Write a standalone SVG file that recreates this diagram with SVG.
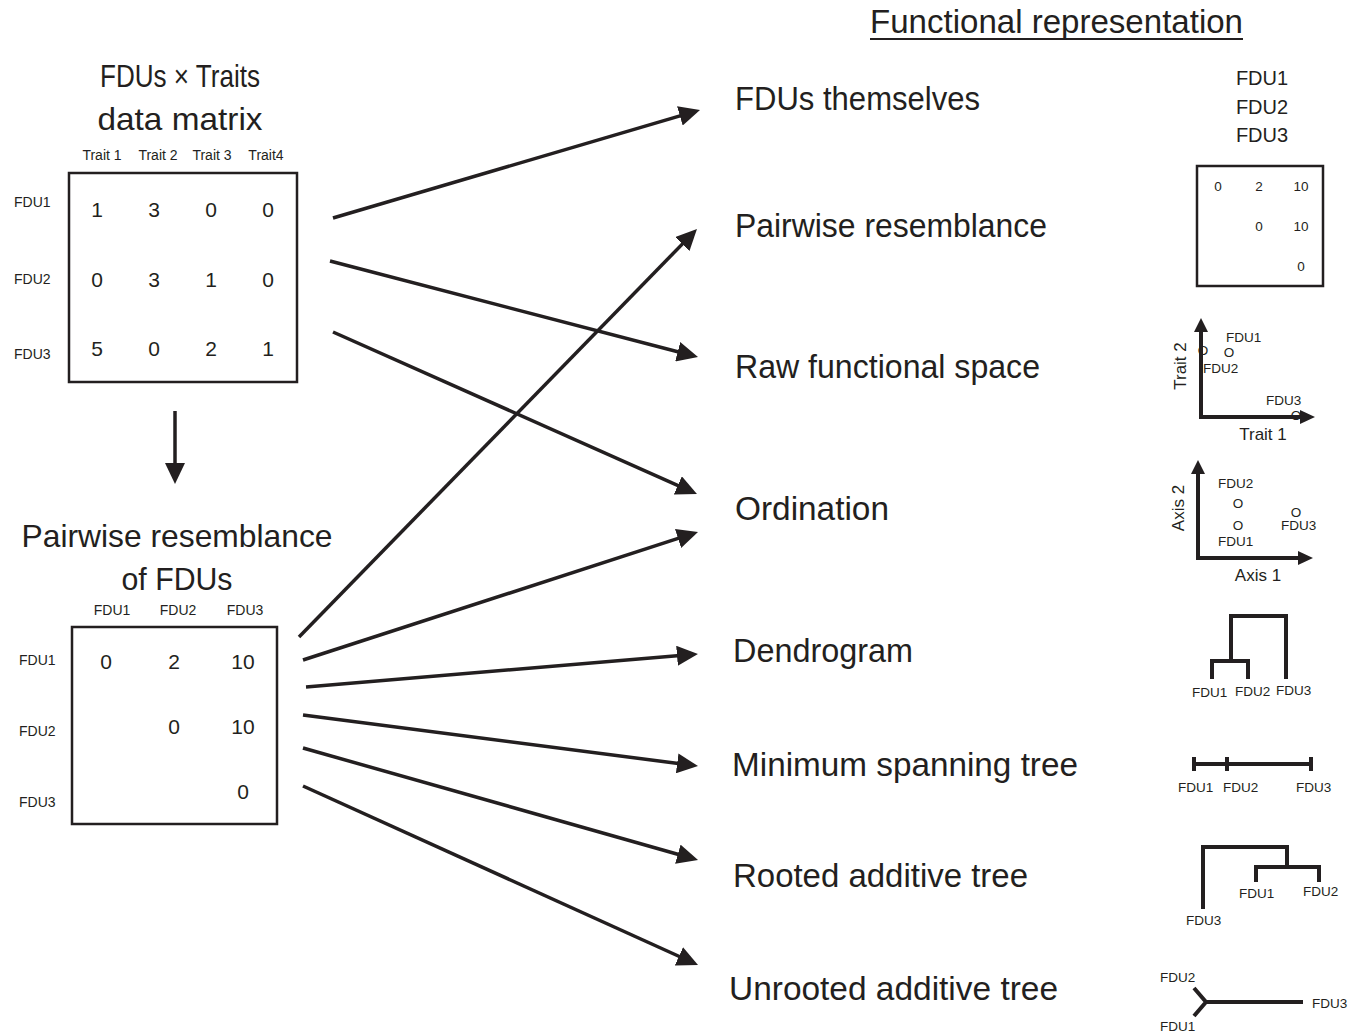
<svg xmlns="http://www.w3.org/2000/svg" width="1357" height="1033" viewBox="0 0 1357 1033">
<defs>
<marker id="ah" viewBox="0 0 21 20" refX="9" refY="10" markerWidth="21" markerHeight="20" markerUnits="userSpaceOnUse" orient="auto">
<path d="M0,0 L21,10 L0,20 Z" fill="#231f20"/>
</marker>
<style>
text{font-family:"Liberation Sans",Arial,sans-serif;fill:#231f20}
.big{font-size:33px}
.title{font-size:32px;text-anchor:middle}
.sm{font-size:14px}
.val{font-size:21px;text-anchor:middle}
.ico{font-size:13.5px}
.ival{font-size:13.5px;text-anchor:middle}
.box{fill:none;stroke:#231f20;stroke-width:2.5}
.conn line{stroke:#231f20;stroke-width:3.5;marker-end:url(#ah)}
.thk{fill:none;stroke:#231f20;stroke-width:4}
</style>
</defs>
<rect width="1357" height="1033" fill="#fff"/>

<g id="header">
<text x="870" y="33" class="big" textLength="373" lengthAdjust="spacingAndGlyphs">Functional representation</text>
<line x1="870" y1="39" x2="1243" y2="39" stroke="#231f20" stroke-width="2"/>
</g>

<g id="trait-matrix">
<text x="180" y="87" class="title" textLength="160" lengthAdjust="spacingAndGlyphs">FDUs × Traits</text>
<text x="180" y="130" class="title" textLength="165" lengthAdjust="spacingAndGlyphs">data matrix</text>
<text x="102" y="160" class="sm" text-anchor="middle">Trait 1</text>
<text x="158" y="160" class="sm" text-anchor="middle">Trait 2</text>
<text x="212" y="160" class="sm" text-anchor="middle">Trait 3</text>
<text x="266" y="160" class="sm" text-anchor="middle">Trait4</text>
<text x="14" y="207" class="sm">FDU1</text>
<text x="14" y="284" class="sm">FDU2</text>
<text x="14" y="359" class="sm">FDU3</text>
<rect x="69" y="173" width="228" height="209" class="box"/>
<text x="97" y="217" class="val">1</text><text x="154" y="217" class="val">3</text><text x="211" y="217" class="val">0</text><text x="268" y="217" class="val">0</text>
<text x="97" y="287" class="val">0</text><text x="154" y="287" class="val">3</text><text x="211" y="287" class="val">1</text><text x="268" y="287" class="val">0</text>
<text x="97" y="356" class="val">5</text><text x="154" y="356" class="val">0</text><text x="211" y="356" class="val">2</text><text x="268" y="356" class="val">1</text>
</g>

<g id="resemblance-matrix">
<text x="177" y="547" class="title" textLength="311" lengthAdjust="spacingAndGlyphs">Pairwise resemblance</text>
<text x="177" y="590" class="title" textLength="111" lengthAdjust="spacingAndGlyphs">of FDUs</text>
<text x="112" y="615" class="sm" text-anchor="middle">FDU1</text>
<text x="178" y="615" class="sm" text-anchor="middle">FDU2</text>
<text x="245" y="615" class="sm" text-anchor="middle">FDU3</text>
<text x="19" y="665" class="sm">FDU1</text>
<text x="19" y="736" class="sm">FDU2</text>
<text x="19" y="807" class="sm">FDU3</text>
<rect x="72" y="627" width="205" height="197" class="box"/>
<text x="106" y="669" class="val">0</text><text x="174" y="669" class="val">2</text><text x="243" y="669" class="val">10</text>
<text x="174" y="734" class="val">0</text><text x="243" y="734" class="val">10</text>
<text x="243" y="799" class="val">0</text>
</g>

<g id="labels">
<text x="735" y="110" class="big" textLength="245" lengthAdjust="spacingAndGlyphs">FDUs themselves</text>
<text x="735" y="237" class="big" textLength="312" lengthAdjust="spacingAndGlyphs">Pairwise resemblance</text>
<text x="735" y="378" class="big" textLength="305" lengthAdjust="spacingAndGlyphs">Raw functional space</text>
<text x="735" y="520" class="big" textLength="154" lengthAdjust="spacingAndGlyphs">Ordination</text>
<text x="733" y="662" class="big" textLength="180" lengthAdjust="spacingAndGlyphs">Dendrogram</text>
<text x="732" y="776" class="big" textLength="346" lengthAdjust="spacingAndGlyphs">Minimum spanning tree</text>
<text x="733" y="887" class="big" textLength="295" lengthAdjust="spacingAndGlyphs">Rooted additive tree</text>
<text x="729" y="1000" class="big" textLength="329" lengthAdjust="spacingAndGlyphs">Unrooted additive tree</text>
</g>

<g id="icon-fdus">
<text x="1262" y="85" font-size="20" text-anchor="middle">FDU1</text>
<text x="1262" y="114" font-size="20" text-anchor="middle">FDU2</text>
<text x="1262" y="142" font-size="20" text-anchor="middle">FDU3</text>
</g>

<g id="icon-matrix">
<rect x="1197" y="166" width="126" height="120" class="box"/>
<text x="1218" y="191" class="ival">0</text><text x="1259" y="191" class="ival">2</text><text x="1301" y="191" class="ival">10</text>
<text x="1259" y="231" class="ival">0</text><text x="1301" y="231" class="ival">10</text>
<text x="1301" y="271" class="ival">0</text>
</g>

<g id="icon-raw">
<polyline points="1201,327 1201,417 1302,417" class="thk"/>
<path d="M1194,332 L1201,318 L1208,332 Z" fill="#231f20"/>
<path d="M1300,410 L1315,417 L1300,424 Z" fill="#231f20"/>
<text x="1186" y="366" font-size="17" text-anchor="middle" transform="rotate(-90 1186 366)">Trait 2</text>
<text x="1263" y="440" font-size="17" text-anchor="middle">Trait 1</text>
<text x="1226" y="342" class="ico">FDU1</text>
<text x="1229" y="357" class="ival">O</text>
<text x="1203" y="355" class="ival">O</text>
<text x="1203" y="373" class="ico">FDU2</text>
<text x="1266" y="405" class="ico">FDU3</text>
<text x="1296" y="420" class="ival">O</text>
</g>

<g id="icon-ordination">
<polyline points="1198,469 1198,558 1300,558" class="thk"/>
<path d="M1191,474 L1198,460 L1205,474 Z" fill="#231f20"/>
<path d="M1298,551 L1313,558 L1298,565 Z" fill="#231f20"/>
<text x="1184" y="508" font-size="17" text-anchor="middle" transform="rotate(-90 1184 508)">Axis 2</text>
<text x="1258" y="581" font-size="17" text-anchor="middle">Axis 1</text>
<text x="1218" y="488" class="ico">FDU2</text>
<text x="1238" y="508" class="ival">O</text>
<text x="1238" y="530" class="ival">O</text>
<text x="1218" y="546" class="ico">FDU1</text>
<text x="1296" y="517" class="ival">O</text>
<text x="1281" y="530" class="ico">FDU3</text>
</g>

<g id="icon-dendrogram">
<polyline points="1231,661 1231,616 1286,616 1286,679" class="thk"/>
<polyline points="1212,679 1212,661 1248,661 1248,679" class="thk"/>
<text x="1192" y="697" class="ico">FDU1</text>
<text x="1235" y="696" class="ico">FDU2</text>
<text x="1276" y="695" class="ico">FDU3</text>
</g>

<g id="icon-mst">
<line x1="1194" y1="764" x2="1311" y2="764" class="thk"/>
<line x1="1194" y1="757" x2="1194" y2="771" class="thk"/>
<line x1="1227" y1="757" x2="1227" y2="771" class="thk"/>
<line x1="1311" y1="757" x2="1311" y2="771" class="thk"/>
<text x="1178" y="792" class="ico">FDU1</text>
<text x="1223" y="792" class="ico">FDU2</text>
<text x="1296" y="792" class="ico">FDU3</text>
</g>

<g id="icon-rooted">
<polyline points="1203,909 1203,847 1287,847 1287,867" class="thk"/>
<polyline points="1256,882 1256,867 1319,867 1319,882" class="thk"/>
<text x="1239" y="898" class="ico">FDU1</text>
<text x="1303" y="896" class="ico">FDU2</text>
<text x="1186" y="925" class="ico">FDU3</text>
</g>

<g id="icon-unrooted">
<polyline points="1194,988 1206,1002 1194,1016" class="thk"/>
<line x1="1206" y1="1002" x2="1303" y2="1002" class="thk"/>
<text x="1160" y="982" class="ico">FDU2</text>
<text x="1160" y="1031" class="ico">FDU1</text>
<text x="1312" y="1008" class="ico">FDU3</text>
</g>

<g id="connectors" class="conn">
<line x1="333" y1="218" x2="688.5" y2="113.4"/>
<line x1="330" y1="261" x2="686.4" y2="354.0"/>
<line x1="333" y1="332" x2="686.0" y2="489.1"/>
<line x1="175" y1="411" x2="175" y2="472"/>
<line x1="299" y1="637" x2="688.6" y2="237.6"/>
<line x1="303" y1="660" x2="686.6" y2="535.7"/>
<line x1="306" y1="687" x2="686.0" y2="655.0"/>
<line x1="303" y1="715" x2="686.1" y2="764.5"/>
<line x1="303" y1="748" x2="686.5" y2="856.7"/>
<line x1="303" y1="786" x2="687.1" y2="960.0"/>
</g>
</svg>
